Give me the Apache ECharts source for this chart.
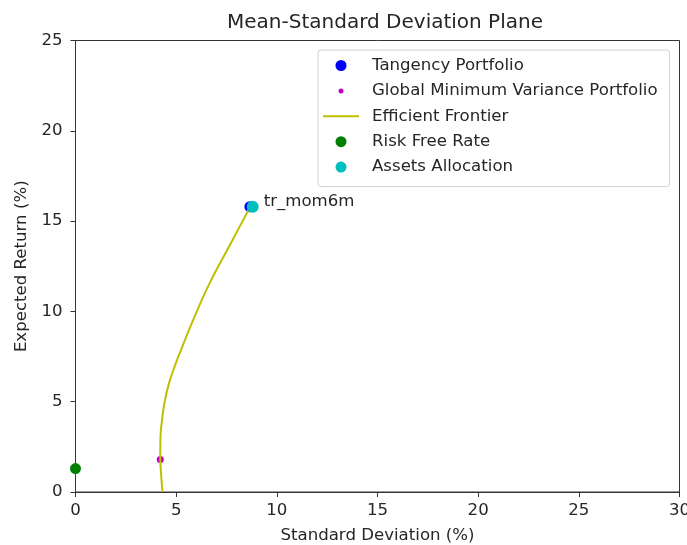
<!DOCTYPE html>
<html>
<head>
	<meta charset="utf-8" />
	<title>Mean-Standard Deviation Plane</title>
	<script type="text/javascript" src="https://cdn.jsdelivr.net/npm/echarts@6/dist/echarts.min.js"></script>
	<style>
		html, body {margin:0;padding:0;background:#fff;}
		#chart {width:687px;height:545px;}
	</style>
</head>
<body>
	<div id="chart"></div>

	<script>
		// efficient frontier (std dev %, expected return %)
		var frontierSd  = [4.32, 4.25, 4.21, 4.22, 4.3, 4.43, 4.64, 4.94, 5.29, 5.65, 6.03, 6.42, 6.86, 7.34, 7.82, 8.3, 8.66];
		var frontierRet = [0, 1, 2, 3, 4, 5, 6, 7, 8, 9, 10, 11, 12, 13, 14, 15, 15.75];

		var tangency  = [8.66, 15.8];
		var gmv       = [4.21, 1.8];
		var riskFree  = [0, 1.3];
		var assets    = [8.8, 15.8];
		var assetName = 'tr_mom6m';

		var xTicks = [0, 5, 10, 15, 20, 25, 30];
		var yTicks = [0, 5, 10, 15, 20, 25];

		var font = 'DejaVu Sans';
		var txt = '#262626';

		var frontier = frontierSd.map((sd, i) => [sd, frontierRet[i]]);

		var chart = echarts.init(document.getElementById('chart'));

		var option = {
			animation: false,
			textStyle: {fontFamily: font},
			title: {
				text: 'Mean-Standard Deviation Plane',
				left: 380,
				textAlign: 'center',
				top: 8,
				textStyle: {fontFamily: font, fontSize: 20, fontWeight: 'normal', color: txt}
			},
			grid: {
				left: 75.5, right: 7.5, top: 40.5, bottom: 53,
				outerBoundsMode: 'none',
				containLabel: false,
				show: true, borderColor: '#333', borderWidth: 1
			},
			legend: {
				orient: 'vertical',
				left: 318,
				top: 50,
				padding: [7, 12, 11, 5],
				itemWidth: 36,
				itemHeight: 11,
				itemGap: 8.4,
				borderColor: '#d0d0d0',
				borderWidth: 1,
				borderRadius: 3,
				backgroundColor: '#fff',
				textStyle: {fontFamily: font, fontSize: 16.6, color: txt, lineHeight: 17, padding: [0, 0, 0, 8]},
				data: [
					{name: 'Tangency Portfolio', icon: 'circle'},
					{name: 'Global Minimum Variance Portfolio', icon: 'path://M0,0M36,11M15.5,5.5a2.5,2.5 0 1,0 5,0a2.5,2.5 0 1,0 -5,0Z'},
					{name: 'Efficient Frontier', icon: 'path://M0,0M36,11M0,4.5h36v2h-36z'},
					{name: 'Risk Free Rate', icon: 'circle'},
					{name: 'Assets Allocation', icon: 'circle'}
				]
			},
			xAxis: {
				type: 'value',
				min: xTicks[0], max: xTicks[xTicks.length - 1], interval: 5,
				name: 'Standard Deviation (%)',
				nameLocation: 'middle',
				nameGap: 35,
				nameTextStyle: {fontFamily: font, fontSize: 16.6, color: txt},
				axisLine: {show: true, lineStyle: {color: '#333', width: 1}},
				axisTick: {show: true, inside: false, length: 5, lineStyle: {color: '#333'}},
				axisLabel: {fontFamily: font, fontSize: 16.6, color: txt, margin: 10},
				splitLine: {show: false}
			},
			yAxis: {
				type: 'value',
				min: yTicks[0], max: yTicks[yTicks.length - 1], interval: 5,
				name: 'Expected Return (%)',
				nameLocation: 'middle',
				nameGap: 39,
				nameTextStyle: {fontFamily: font, fontSize: 16.6, color: txt},
				axisLine: {show: true, lineStyle: {color: '#333', width: 1}},
				axisTick: {show: true, inside: false, length: 5, lineStyle: {color: '#333'}},
				axisLabel: {fontFamily: font, fontSize: 16.6, color: txt, margin: 13},
				splitLine: {show: false}
			},
			series: [
				{
					name: 'Tangency Portfolio',
					type: 'scatter',
					symbolSize: 11,
					itemStyle: {color: '#0000ff', opacity: 1},
					data: [tangency],
					clip: false,
					z: 2
				},
				{
					name: 'Global Minimum Variance Portfolio',
					type: 'scatter',
					symbolSize: 7,
					itemStyle: {color: '#bf00bf', opacity: 1},
					data: [gmv],
					clip: false,
					z: 3
				},
				{
					name: 'Efficient Frontier',
					type: 'line',
					symbol: 'none',
					smooth: 0.5,
					lineStyle: {color: '#bfbf00', width: 2},
					itemStyle: {color: '#bfbf00'},
					data: frontier,
					z: 4
				},
				{
					name: 'Risk Free Rate',
					type: 'scatter',
					symbolSize: 11,
					itemStyle: {color: '#008000', opacity: 1},
					data: [riskFree],
					clip: false,
					z: 5
				},
				{
					name: 'Assets Allocation',
					type: 'scatter',
					symbolSize: 12,
					itemStyle: {color: '#00bfbf', opacity: 1},
					data: [{name: assetName, value: assets}],
					label: {
						show: true,
						position: 'right',
						distance: 5,
						offset: [0, -5],
						formatter: '{b}',
						fontFamily: font,
						fontSize: 16.6,
						color: txt
					},
					clip: false,
					z: 6
				}
			]
		};

		chart.setOption(option);
	</script>
</body>
</html>
